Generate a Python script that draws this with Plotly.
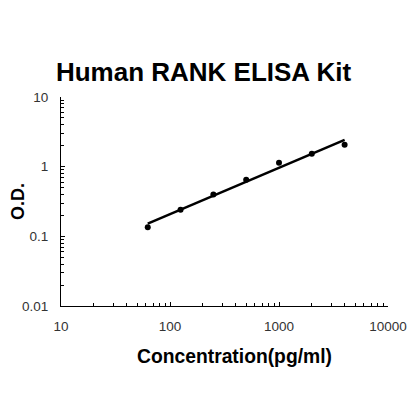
import numpy as np
import plotly.graph_objects as go

# standard curve readings
conc = [62.5, 125, 250, 500, 1000, 2000, 4000]
od = [0.135, 0.24, 0.40, 0.65, 1.14, 1.53, 2.06]

x_ticks = [10, 100, 1000, 10000]
x_labels = ["10", "100", "1000", "10000"]
y_ticks = [0.01, 0.1, 1, 10]
y_labels = ["0.01", "0.1", "1", "10"]

# power fit in log-log space
slope, icpt = np.polyfit(np.log10(conc), np.log10(od), 1)
fx = np.logspace(np.log10(conc[0]), np.log10(conc[-1]), 50)
fy = 10 ** (icpt + slope * np.log10(fx))

x_minor = [d * k for d in [10, 100, 1000] for k in range(2, 10)]
y_minor = [d * k for d in [0.01, 0.1, 1] for k in range(2, 10)]

fig = go.Figure()
fig.add_trace(go.Scatter(x=fx, y=fy, mode="lines",
                         line=dict(color="black", width=2.5), hoverinfo="skip"))
fig.add_trace(go.Scatter(x=conc, y=od, mode="markers",
                         marker=dict(color="black", size=6)))

axis_common = dict(
    type="log", showgrid=False, zeroline=False, showline=True, automargin=False,
    linecolor="black", linewidth=1, ticks="inside", ticklen=4,
    tickcolor="black", tickfont=dict(size=13.5, color="#333333"),
    tickmode="array",
)
fig.update_xaxes(**axis_common, range=[1, 4], tickvals=x_ticks, ticktext=x_labels,
                 minor=dict(tickvals=x_minor, ticks="inside", ticklen=3, tickcolor="black"),
                 ticklabelstandoff=8)
fig.update_yaxes(**axis_common, range=[-2, 1], tickvals=y_ticks, ticktext=y_labels,
                 minor=dict(tickvals=y_minor, ticks="inside", ticklen=3, tickcolor="black"),
                 ticklabelstandoff=9,
                 title=dict(text="<b>O.D.</b>", font=dict(size=18, color="black"), standoff=0))

# x title sits a little right of the axis centre in the original
fig.add_annotation(text="<b>Concentration(pg/ml)</b>", xref="paper", yref="paper",
                   x=0.532, y=0, xanchor="center", yanchor="middle", yshift=-50,
                   showarrow=False, font=dict(size=19.3, color="black"))

# page body adds an 8px offset, so the figure is sized to fit the window
fig.update_layout(
    width=412, height=412, showlegend=False,
    paper_bgcolor="white", plot_bgcolor="white",
    font=dict(family="Liberation Sans, Arial, sans-serif"),
    margin=dict(l=53, r=32, t=89, b=114),
    title=dict(text="<b>Human RANK ELISA Kit</b>", x=0.4745, xanchor="center",
               y=0.8447, yanchor="middle", font=dict(size=26, color="black")),
)
fig.write_html("out.html")
